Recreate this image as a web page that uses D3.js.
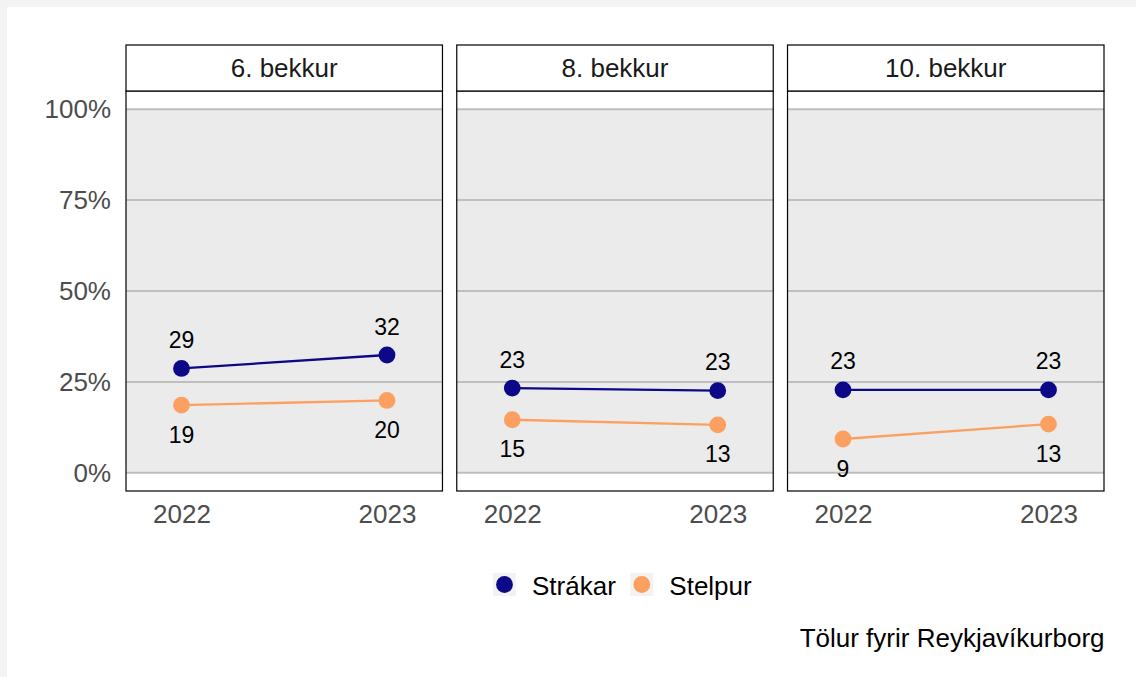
<!DOCTYPE html>
<html>
<head>
<meta charset="utf-8">
<script src="https://cdn.jsdelivr.net/npm/d3@7"></script>
<style>
	body { margin: 0; background: #f3f3f3; }
	svg { display: block; }
	text { font-family: "Liberation Sans", Arial, Helvetica, sans-serif; }
</style>
</head>
<body>
<svg width="1136" height="677"></svg>
<script>
// data (share of pupils)
var grades = ["6. bekkur", "8. bekkur", "10. bekkur"];
var years = [2022, 2023];
var groups = ["Strákar", "Stelpur"];
var colors = ["#0d0887", "#fca061"];
var strakar = [[0.287, 0.324], [0.233, 0.226], [0.228, 0.228]];
var stelpur = [[0.186, 0.199], [0.146, 0.132], [0.093, 0.134]];
var yTicks = [0, 0.25, 0.5, 0.75, 1];
var caption = "Tölur fyrir Reykjavíkurborg";

var svg = d3.select("svg");

// white plot area sitting on the grey page
svg.append("rect")
	.attr("x", 7).attr("y", 7)
	.attr("width", 1129).attr("height", 670)
	.attr("fill", "#ffffff");

var panel = d3.scaleBand()
	.domain(grades)
	.range([126, 1104])
	.paddingInner(0.0432);
var bw = panel.bandwidth();

var x = d3.scaleLinear()
	.domain([2021.73, 2023.27])
	.range([0, bw]);

var y = d3.scaleLinear()
	.domain([-0.05, 1.05])
	.range([491, 91]);

var stripTop = 45;

// y axis only left of first panel
var yAxis = svg.append("g")
	.attr("transform", "translate(" + panel(grades[0]) + ",0)")
	.call(d3.axisLeft(y).tickValues(yTicks).tickFormat(d3.format(".0%")).tickSize(0).tickPadding(15));
yAxis.select(".domain").remove();
yAxis.selectAll("text")
	.attr("fill", "#4d4d4d")
	.style("font-size", "26px");

var series = [strakar, stelpur];

var line = d3.line()
	.x(function(d) { return x(d.year); })
	.y(function(d) { return y(d.value); });

grades.forEach(function(g, gi) {
	var p = svg.append("g")
		.attr("transform", "translate(" + panel(g) + ",0)");

	// panel background: white with a grey band from 0 to 100%
	p.append("rect")
		.attr("width", bw)
		.attr("y", y(1.05))
		.attr("height", y(-0.05) - y(1.05))
		.attr("fill", "#ffffff");
	p.append("rect")
		.attr("width", bw)
		.attr("y", y(1))
		.attr("height", y(0) - y(1))
		.attr("fill", "#ebebeb");

	p.selectAll("line.grid")
		.data(yTicks)
		.enter().append("line")
		.attr("class", "grid")
		.attr("x1", 0).attr("x2", bw)
		.attr("y1", function(d) { return y(d); })
		.attr("y2", function(d) { return y(d); })
		.attr("stroke", "#bebebe")
		.attr("stroke-width", 2);

	series.forEach(function(s, si) {
		var pts = years.map(function(yr, i) { return { year: yr, value: s[gi][i] }; });
		p.append("path")
			.datum(pts)
			.attr("d", line)
			.attr("fill", "none")
			.attr("stroke", colors[si])
			.attr("stroke-width", 2.3);
		p.selectAll("circle.s" + si)
			.data(pts)
			.enter().append("circle")
			.attr("class", "s" + si)
			.attr("cx", function(d) { return x(d.year); })
			.attr("cy", function(d) { return y(d.value); })
			.attr("r", 8.4)
			.attr("fill", colors[si]);
		// boys labelled above, girls below
		p.selectAll("text.l" + si)
			.data(pts)
			.enter().append("text")
			.attr("class", "l" + si)
			.attr("x", function(d) { return x(d.year); })
			.attr("y", function(d) { return y(d.value) + (si == 0 ? -20.5 : 37.5); })
			.attr("text-anchor", "middle")
			.attr("fill", "#000000")
			.style("font-size", "23px")
			.text(function(d) { return Math.round(d.value * 100); });
	});

	// panel border
	p.append("rect")
		.attr("width", bw)
		.attr("y", y(1.05))
		.attr("height", y(-0.05) - y(1.05))
		.attr("fill", "none")
		.attr("stroke", "#000000")
		.attr("stroke-width", 1.2);

	// strip
	p.append("rect")
		.attr("width", bw)
		.attr("y", stripTop)
		.attr("height", y(1.05) - stripTop)
		.attr("fill", "#ffffff")
		.attr("stroke", "#000000")
		.attr("stroke-width", 1.2);
	p.append("text")
		.attr("x", bw / 2)
		.attr("y", 77.3)
		.attr("text-anchor", "middle")
		.attr("fill", "#1a1a1a")
		.style("font-size", "26px")
		.text(g);

	// x axis
	var xAxis = p.append("g")
		.attr("transform", "translate(0," + y(-0.05) + ")")
		.call(d3.axisBottom(x).tickValues(years).tickFormat(d3.format("d")).tickSize(0).tickPadding(14));
	xAxis.select(".domain").remove();
	xAxis.selectAll("text")
		.attr("fill", "#4d4d4d")
		.style("font-size", "26px");
});

// legend
var legend = svg.append("g")
	.attr("transform", "translate(493,573)");
var lx = 0;
groups.forEach(function(name, i) {
	var item = legend.append("g")
		.attr("transform", "translate(" + lx + ",0)");
	item.append("rect")
		.attr("width", 23).attr("height", 23)
		.attr("fill", "#f2f2f2");
	item.append("circle")
		.attr("cx", 11.5).attr("cy", 11.5)
		.attr("r", 8.4)
		.attr("fill", colors[i]);
	var t = item.append("text")
		.attr("x", 39)
		.attr("y", 22)
		.attr("fill", "#000000")
		.style("font-size", "26px")
		.text(name);
	lx += 39 + t.node().getComputedTextLength() + 14.5;
});

svg.append("text")
	.attr("x", 1104.5)
	.attr("y", 646.5)
	.attr("text-anchor", "end")
	.attr("fill", "#000000")
	.style("font-size", "26px")
	.text(caption);
</script>
</body>
</html>
